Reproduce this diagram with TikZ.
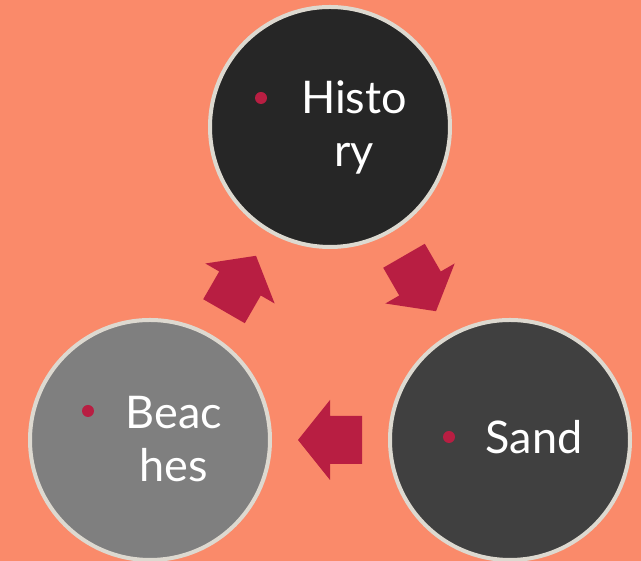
\documentclass[tikz,border=0pt]{standalone}
\usepackage{fontspec}
\setmainfont{Lato}
\usepackage{tikz}
\usetikzlibrary{calc}
\definecolor{salmon}{RGB}{250,138,106}
\definecolor{rimgray}{RGB}{221,217,208}
\definecolor{crimson}{RGB}{184,30,66}
\definecolor{darkone}{RGB}{38,38,38}
\definecolor{darktwo}{RGB}{64,64,64}
\definecolor{midgray}{RGB}{127,127,127}

\begin{document}
\begin{tikzpicture}[x=1pt,y=1pt,
		topic/.style={circle,draw=rimgray,line width=4pt,minimum size=240pt,inner sep=0pt},
		label/.style={text=white,align=center,inner sep=0pt,anchor=base,font=\fontsize{45}{53}\selectfont},
		dot/.style={circle,fill=crimson,minimum size=12pt,inner sep=0pt}]
			\useasboundingbox (0,0) rectangle (641,561);
			\clip (0,0) rectangle (641,561);
			\fill[salmon] (0,0) rectangle (641,561);
			\node[topic,fill=darkone] (hist) at (330,434) {};
			\node[topic,fill=midgray] (beach) at (150,121) {};
			\node[topic,fill=darktwo] (sand) at (510,121) {};
			\node[label] (histtext) at (354,394) {Histo\\ry};
			\node[label] (beachtext) at (174,79) {Beac\\hes};
			\node[label] (sandtext) at (534,107) {Sand};
			\node[dot] (histdot) at (261,463) {};
			\node[dot] (beachdot) at (88,150) {};
			\node[dot] (sanddot) at (449,124) {};
			\foreach \a/\b/\ang in {beach/hist/60,hist/sand/-60,sand/beach/180}
				\fill[crimson,shift={($(\a)!0.5!(\b)$)},rotate=\ang]
					(32,0) -- (0,40) -- (0,24) -- (-32,24) -- (-32,-24) -- (0,-24) -- (0,-40) -- cycle;
		\end{tikzpicture}
\end{document}
